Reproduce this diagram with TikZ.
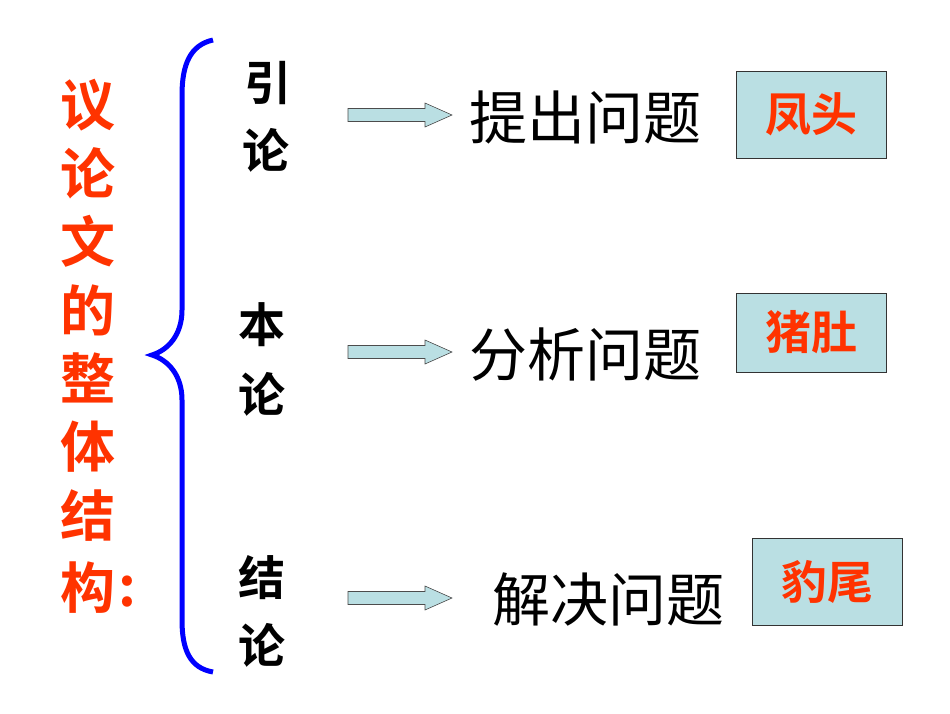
\documentclass[tikz,border=0pt]{standalone}
\usepackage{fontspec}
\newfontfamily\cjk{Noto Sans CJK SC}
\newfontfamily\cjkb{Noto Sans CJK SC Bold}
\definecolor{redt}{HTML}{FF3300}
\definecolor{boxfill}{HTML}{BADFE3}
\definecolor{bracec}{HTML}{0000FF}
\newcommand{\lowr}[1]{\raisebox{-7pt}{#1}}
\begin{document}
\begin{tikzpicture}[x=1pt,y=-1pt,
  redch/.style={text=redt,font=\cjkb\fontsize{55}{55}\selectfont,inner sep=0pt},
  blk/.style={text=black,font=\cjkb\fontsize{47}{47}\selectfont,inner sep=0pt},
  topic/.style={text=black,font=\cjk\fontsize{58}{58}\selectfont,inner sep=0pt},
  tag/.style={draw=black!80,line width=0.8pt,fill=boxfill,minimum width=150pt,minimum height=87pt,text=redt,font=\cjkb\fontsize{46}{46}\selectfont},
  arr/.style={draw=black!70,line width=0.6pt,fill=boxfill}]
\useasboundingbox (0,0) rectangle (950,713);
\fill[white] (0,0) rectangle (950,713);
% red vertical title
\foreach \c/\y [count=\i] in {议/105,论/173,文/241,的/310,整/378,体/447,结/516,构/588}
  \node[redch] (t\i) at (88,\y) {\c};
\node[redch,anchor=west] (colon) at (118,592) {:};
% brace
\draw[bracec,line width=5pt] (213,40) .. controls (190,45) and (182,65) .. (182,95)
  -- (182,310) .. controls (182,335) and (168,350) .. (152,355)
  .. controls (168,360) and (182,375) .. (182,400)
  -- (182,620) .. controls (182,650) and (190,668) .. (213,672);
% calligraphic labels
\node[blk] (a1) at (268,83) {引};
\node[blk] (a2) at (266,150) {论};
\node[blk] (b1) at (262,325) {本};
\node[blk] (b2) at (262,394) {论};
\node[blk] (c1) at (262,578) {结};
\node[blk] (c2) at (262,645) {论};
% arrows
\foreach \y [count=\i] in {115,352,598} {
  \coordinate (s\i) at (348,\y);
  \coordinate (e\i) at (452,\y);
  \draw[arr] (348,\y-6.5) -- (425,\y-6.5) -- (425,\y-12) -- (452,\y) -- (425,\y+12) -- (425,\y+6.5) -- (348,\y+6.5) -- cycle;
}
% topics
\node[topic] (p1) at (585,117) {提出问题};
\node[topic] (p2) at (585,355) {分析问题};
\node[topic] (p3) at (608,600) {解决问题};
% tags
\node[tag,minimum height=87pt] (r1) at (811.5,114.5) {\lowr{凤头}};
\node[tag,minimum height=79pt] (r2) at (811.5,332.5) {\lowr{猪肚}};
\node[tag,minimum height=87pt] (r3) at (827,581.5) {\lowr{豹尾}};
\end{tikzpicture}
\end{document}
